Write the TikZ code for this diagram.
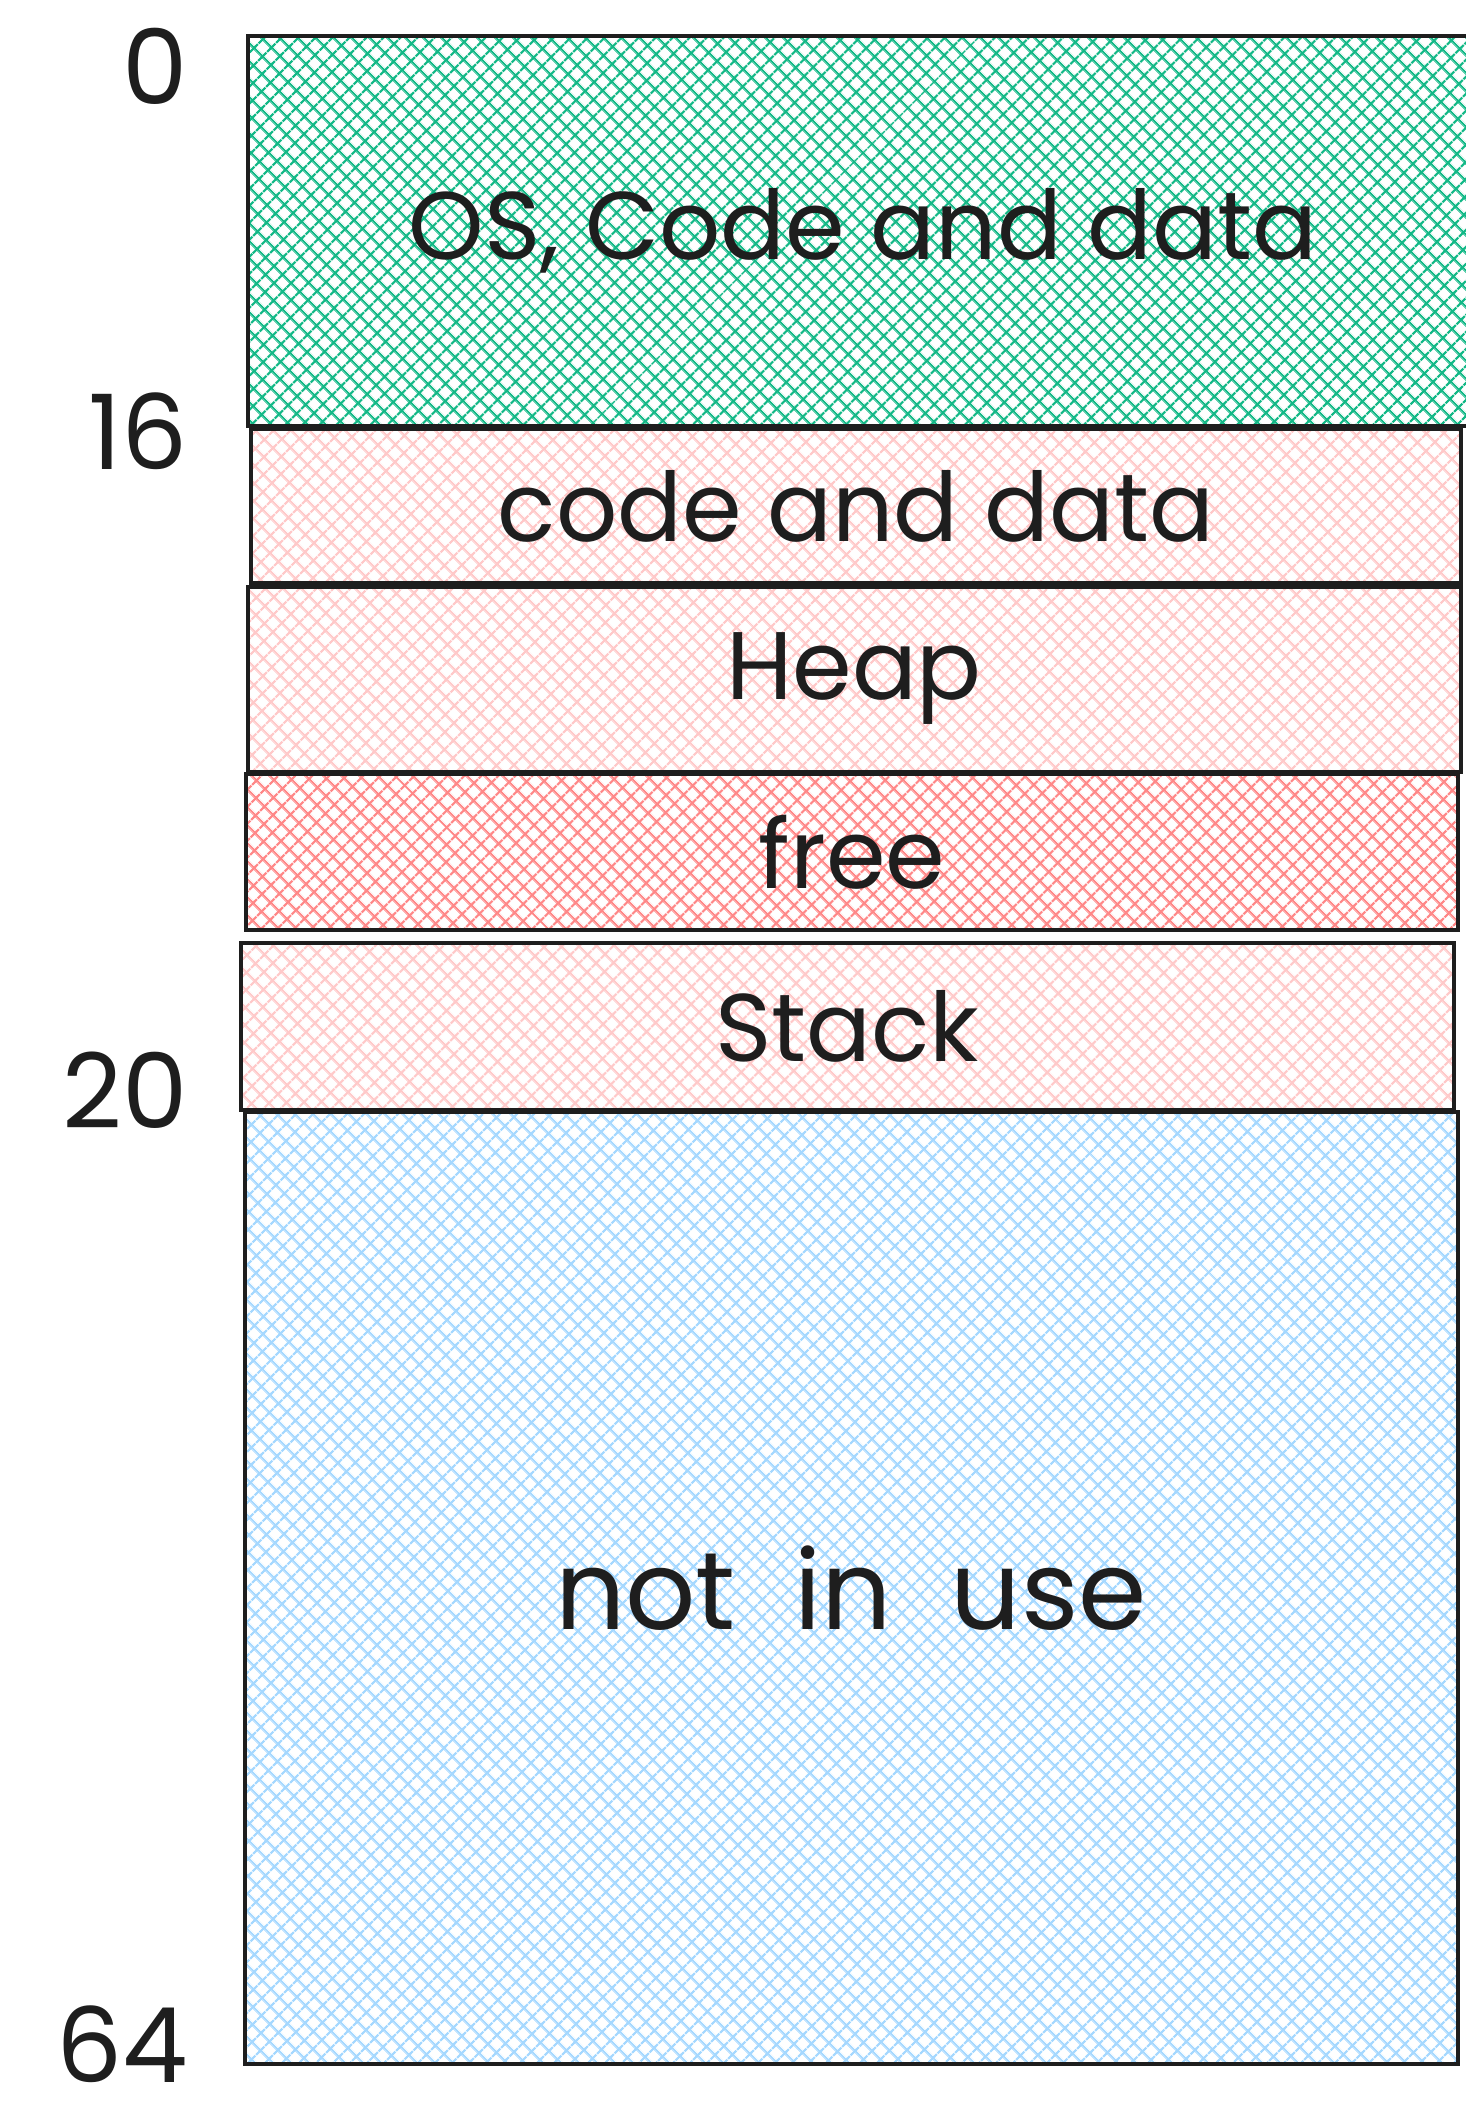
\documentclass[tikz,border=0pt]{standalone}
\usepackage{fontspec}
\setmainfont{Poppins}
\usepackage{tikz}
\usetikzlibrary{patterns.meta, positioning, calc}
\definecolor{inkc}{HTML}{1E1E1E}
\definecolor{osgreen}{HTML}{12B886}
\definecolor{lightred}{HTML}{FFC9C9}
\definecolor{freered}{HTML}{FF8787}
\definecolor{lightblue}{HTML}{A5D8FF}
\tikzset{
   myseg/.style={draw=inkc, line width=4pt, inner sep=0pt, text=inkc,
      font=\fontsize{96}{100}\selectfont},
   myhatch/.style={pattern={Hatch[angle=45, distance=13pt, line width=2.4pt]}, pattern color=#1},
   myaddr/.style={anchor=east, inner sep=0pt, text=inkc, font=\fontsize{104}{110}\selectfont}
}
\begin{document}
\begin{tikzpicture}[x=1pt, y=-1pt]
      \useasboundingbox (0,0) rectangle (1466,2101);
      \fill[white] (0,0) rectangle (1466,2101);
      % memory segments, top to bottom
      \node[myseg, myhatch=osgreen, minimum width=1230pt, minimum height=389pt] (os) at (863,231) {OS, Code and data};
      \node[myseg, myhatch=lightred, minimum width=1210pt, minimum height=154pt] (code) at (856,506) {code and data};
      \node[myseg, myhatch=lightred, minimum width=1213pt, minimum height=185pt] (heap) at (854,679) {Heap};
      \node[myseg, myhatch=freered, minimum width=1212pt, minimum height=156pt] (free) at (852,852) {free};
      \node[myseg, myhatch=lightred, minimum width=1213pt, minimum height=167pt] (stack) at (847,1026) {Stack};
      \node[myseg, myhatch=lightblue, minimum width=1213pt, minimum height=952pt,
            font=\fontsize{110}{114}\selectfont] (unused) at (851,1588) {not\ \ in\ \ use};
      % addresses
      \node[myaddr] (a0) at (188,66) {0};
      \node[myaddr] (a16) at (188,431) {16};
      \node[myaddr] (a20) at (188,1090) {20};
      \node[myaddr] (a64) at (188,2044) {64};
\end{tikzpicture}
\end{document}
